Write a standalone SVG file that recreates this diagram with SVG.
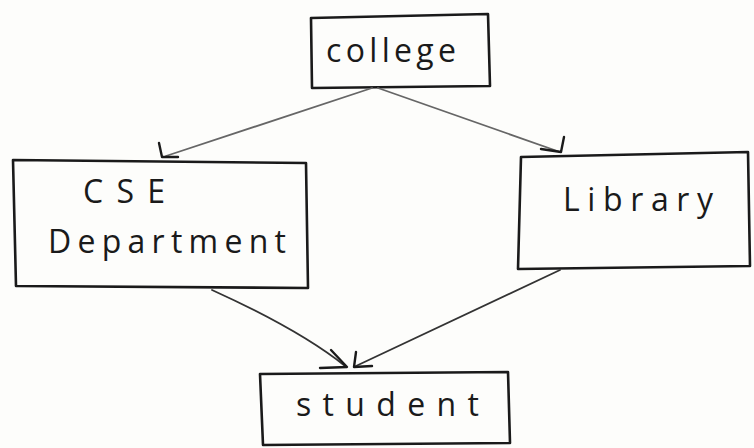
<svg xmlns="http://www.w3.org/2000/svg" width="754" height="448" viewBox="0 0 754 448">
  <style>
    .box { fill: none; stroke: #1a1a1a; stroke-width: 2.6; stroke-linejoin: round; stroke-linecap: round; }
    .lbl { font-family: "Open Sans", "Liberation Sans", sans-serif; fill: #1a1a1a; font-size: 32px; }
    .edge { fill: none; stroke: #333; stroke-width: 1.8; stroke-linecap: round; }
    .edge.light { stroke: #666; }
    .head { fill: none; stroke: #1a1a1a; stroke-width: 2.4; stroke-linecap: round; stroke-linejoin: round; }
  </style>
  <rect width="754" height="448" fill="#fdfdfb"/>

  <g id="college">
    <path class="box" d="M311,18 L488,14 L490,86 L312,88 Z"/>
    <text class="lbl" x="326" y="62" font-size="31" textLength="130" lengthAdjust="spacing">college</text>
  </g>

  <g id="cse-department">
    <path class="box" d="M13,160 L306,163 L308,288 L16,286 Z"/>
    <text class="lbl" x="83" y="203" font-size="27" textLength="82" lengthAdjust="spacing">CSE</text>
    <text class="lbl" x="48" y="253" textLength="238" lengthAdjust="spacing">Department</text>
  </g>

  <g id="library">
    <path class="box" d="M521,157 L748,152 L750,266 L518,269 Z"/>
    <text class="lbl" x="563" y="211" font-size="33" textLength="150" lengthAdjust="spacing">Library</text>
  </g>

  <g id="student">
    <path class="box" d="M260,374 L508,372 L510,443 L263,445 Z"/>
    <text class="lbl" x="296" y="416" font-size="33" textLength="183" lengthAdjust="spacing">student</text>
  </g>

  <g id="connectors">
    <!-- college to CSE Department -->
    <path class="edge light" d="M372,88 L166,156"/>
    <path class="head" d="M159,143 L162,157 L178,157"/>
    <!-- college to Library -->
    <path class="edge light" d="M378,88 L560,152"/>
    <path class="head" d="M541,149 L561,152 L564,137"/>
    <!-- CSE Department to student -->
    <path class="edge" d="M212,290 Q300,330 345,366"/>
    <path class="head" d="M331,350 L347,367 L320,368"/>
    <!-- Library to student -->
    <path class="edge" d="M560,270 L356,366"/>
    <path class="head" d="M356,352 L354,367 L372,366"/>
  </g>
</svg>
